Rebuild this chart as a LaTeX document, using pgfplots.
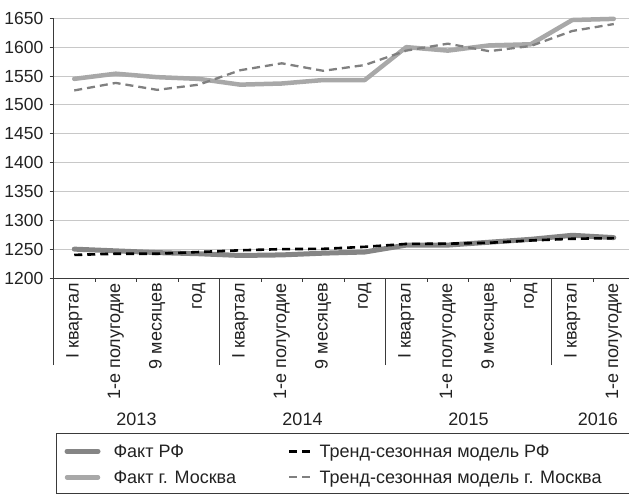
\documentclass[border=0pt]{standalone}
\usepackage{fontspec}
\setmainfont{Liberation Sans}
\usepackage{pgfplots}
\pgfplotsset{compat=1.18}
\definecolor{rfact}{HTML}{858585}
\definecolor{mfact}{HTML}{A8A8A8}
\definecolor{mtrend}{HTML}{808080}
\definecolor{gridc}{HTML}{C8C8C8}
\definecolor{axc}{HTML}{3A3A3A}
\definecolor{txt}{HTML}{222222}
\pgfplotsset{
  factleg/.style={legend image code/.code={\draw[##1] (0bp,6bp) -- (31bp,6bp);}},
  trendleg/.style={legend image code/.code={\draw[##1, overlay] (0bp,6bp) -- (22bp,6bp); \path (0bp,6bp) -- (16bp,6bp);}},
}
\newcommand{\lblfont}{\fontsize{18bp}{21bp}\selectfont}
\begin{document}
\lblfont
\begin{tikzpicture}[x=1bp,y=1bp]
\path[use as bounding box, clip] (0,0) rectangle (629,495);
\begin{axis}[
  at={(53.5bp,217bp)}, anchor=south west, scale only axis,
  width=581bp, height=259.7bp,
  xmin=-0.5, xmax=13.5, ymin=1200, ymax=1650,
  clip=false,
  axis lines=left, axis line style={-, draw=axc, line width=0.9bp},
  tick align=outside, tick pos=left,
  tick style={draw=axc, line width=0.9bp},
  major tick length=4bp, minor tick length=4bp,
  ytick={1200,1250,...,1650},
  /pgf/number format/assume math mode=true,
  /pgf/number format/1000 sep={},
  yticklabel style={font=\fontsize{17.5bp}{21bp}\selectfont, text=txt},
  ymajorgrids, grid style={draw=gridc, line width=0.8bp},
  xtick={0,...,13},
  xticklabels={I квартал,1-е полугодие,9 месяцев,год,I квартал,1-е полугодие,9 месяцев,год,I квартал,1-е полугодие,9 месяцев,год,I квартал,1-е полугодие},
  major x tick style={draw=none},
  xticklabel style={yshift=-1bp, rotate=90, anchor=east, inner sep=0pt, font=\lblfont, text=txt},
  minor xtick={0.5,1.5,2.5,4.5,5.5,6.5,8.5,9.5,10.5,12.5},
  extra x ticks={-0.5,3.5,7.5,11.5},
  extra x tick labels={},
  extra x tick style={major tick length=87bp, major x tick style={draw=axc, line width=0.9bp}, grid=none},
  legend columns=2,
  legend style={at={(0.01893,-0.6327)}, anchor=north west, draw=none, fill=none,
    inner sep=0pt, outer sep=0pt, row sep=5bp,
    font=\lblfont, text=txt,
    nodes={inner xsep=3bp, inner ysep=2bp, text height=13bp, text depth=4bp, anchor=base west},
    /tikz/every odd column/.append style={column sep=10bp},
    /tikz/every even column/.append style={column sep=49bp}},
  legend cell align=left,
]
\addplot[rfact, line width=5bp, line cap=round, line join=round, factleg]
  coordinates {(0,1250) (1,1247) (2,1244) (3,1242) (4,1239) (5,1240) (6,1243) (7,1245) (8,1257) (9,1257) (10,1262) (11,1267) (12,1274) (13,1270)};
\addlegendentry{Факт РФ}
\addplot[black, line width=2.6bp, dash pattern=on 8bp off 5bp, trendleg]
  coordinates {(0,1240) (1,1242) (2,1242) (3,1245) (4,1248) (5,1250) (6,1250.5) (7,1254) (8,1259) (9,1259.5) (10,1261) (11,1265) (12,1268) (13,1269)};
\addlegendentry{Тренд-сезонная модель РФ}
\addplot[mfact, line width=4.5bp, line cap=round, line join=round, factleg]
  coordinates {(0,1545) (1,1554) (2,1548) (3,1545) (4,1535) (5,1537) (6,1543) (7,1543) (8,1600) (9,1594) (10,1603) (11,1605) (12,1647) (13,1649)};
\addlegendentry{Факт г. Москва}
\addplot[mtrend, line width=2.3bp, dash pattern=on 8bp off 5bp, trendleg]
  coordinates {(0,1525) (1,1538) (2,1526) (3,1535) (4,1560) (5,1572) (6,1559) (7,1569) (8,1594) (9,1606) (10,1593) (11,1602) (12,1628) (13,1640)};
\addlegendentry{Тренд-сезонная модель г. Москва}
\node[anchor=base, text=txt] at (axis cs:1.5,1200) [yshift=-148bp] {2013};
\node[anchor=base, text=txt] at (axis cs:5.5,1200) [yshift=-148bp] {2014};
\node[anchor=base, text=txt] at (axis cs:9.5,1200) [yshift=-148bp] {2015};
\node[anchor=base, text=txt] at (axis cs:12.62,1200) [yshift=-148bp] {2016};
\end{axis}
\draw[axc, line width=1bp] (56,61) rectangle (680,1);
\end{tikzpicture}
\end{document}
